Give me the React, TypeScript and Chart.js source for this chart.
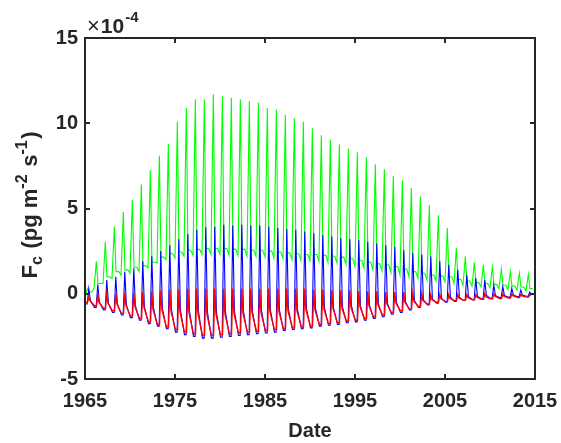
import React, { useEffect, useRef } from 'react';
import { Chart, registerables } from 'chart.js';

Chart.register(...registerables);

// ---------- data (values in units of 1e-4 pg m^-2 s^-1) ----------
const years = [
  1965, 1966, 1967, 1968, 1969, 1970, 1971, 1972, 1973, 1974,
  1975, 1976, 1977, 1978, 1979, 1980, 1981, 1982, 1983, 1984,
  1985, 1986, 1987, 1988, 1989, 1990, 1991, 1992, 1993, 1994,
  1995, 1996, 1997, 1998, 1999, 2000, 2001, 2002, 2003, 2004,
  2005, 2006, 2007, 2008, 2009, 2010, 2011, 2012, 2013, 2014,
];

const greenPeak = [
  0.3, 1.9, 3.05, 3.95, 4.8, 5.5, 6.4, 7.25, 8.1, 8.8,
  10.1, 10.9, 11.4, 11.4, 11.7, 11.6, 11.5, 11.4, 11.3, 11.2,
  10.9, 10.8, 10.5, 10.3, 10.1, 9.7, 9.3, 9.05, 8.75, 8.5,
  8.3, 8.0, 7.6, 7.3, 6.9, 6.65, 6.2, 5.7, 5.2, 4.6,
  3.85, 2.7, 2.2, 1.85, 1.7, 1.55, 1.45, 1.3, 1.2, 1.15,
];
const greenPlateau = [
  0.1, 0.6, 1.0, 1.3, 1.4, 1.55, 1.65, 1.85, 2.15, 2.35,
  2.45, 2.55, 2.6, 2.65, 2.65, 2.65, 2.6, 2.6, 2.55, 2.55,
  2.5, 2.45, 2.4, 2.35, 2.3, 2.3, 2.25, 2.2, 2.15, 2.05,
  1.95, 1.85, 1.75, 1.7, 1.6, 1.45, 1.3, 1.2, 1.1, 1.05,
  1.0, 0.85, 0.75, 0.65, 0.6, 0.55, 0.5, 0.45, 0.4, 0.3,
];
const greenLow = [
  -0.2, 0.3, 0.6, 0.9, 1.1, 1.2, 1.3, 1.5, 1.8, 2.0,
  2.1, 2.2, 2.25, 2.3, 2.3, 2.3, 2.25, 2.25, 2.2, 2.2,
  2.15, 2.1, 2.05, 2.0, 1.95, 1.95, 1.9, 1.85, 1.8, 1.7,
  1.6, 1.5, 1.4, 1.35, 1.25, 1.1, 1.0, 0.9, 0.8, 0.75,
  0.7, 0.6, 0.5, 0.45, 0.4, 0.35, 0.3, 0.25, 0.2, 0.15,
];

const bluePeak = [
  0.3, 0.55, 0.8, 1.0, 1.3, 1.5, 1.9, 2.2, 2.5, 2.85,
  3.2, 3.5, 3.75, 3.9, 3.95, 4.05, 4.0, 4.05, 4.0, 4.0,
  3.95, 3.85, 3.8, 3.75, 3.65, 3.55, 3.45, 3.35, 3.25, 3.2,
  3.15, 3.05, 2.95, 2.85, 2.75, 2.55, 2.4, 2.3, 2.2, 1.9,
  1.7, 1.4, 1.1, 0.9, 0.8, 0.5, 0.42, 0.32, 0.22, 0.1,
];
const blueMid = [
  -0.4, -0.5, -0.55, -0.6, -0.65, -0.7, -0.75, -0.8, -0.85, -0.9,
  -0.95, -1.0, -1.0, -1.05, -1.05, -1.05, -1.0, -1.0, -1.0, -0.95,
  -0.95, -0.95, -0.9, -0.9, -0.85, -0.85, -0.8, -0.8, -0.75, -0.7,
  -0.7, -0.65, -0.6, -0.55, -0.5, -0.45, -0.4, -0.35, -0.3, -0.25,
  -0.2, -0.2, -0.15, -0.15, -0.1, -0.1, -0.1, -0.08, -0.08, -0.05,
];
const blueLow = [
  -0.6, -0.8, -0.95, -1.1, -1.25, -1.4, -1.55, -1.75, -1.9, -2.05,
  -2.25, -2.4, -2.5, -2.6, -2.6, -2.55, -2.5, -2.45, -2.4, -2.35,
  -2.3, -2.25, -2.15, -2.1, -2.05, -2.0, -1.9, -1.85, -1.8, -1.7,
  -1.65, -1.55, -1.45, -1.35, -1.2, -1.1, -0.95, -0.8, -0.65, -0.55,
  -0.5, -0.45, -0.4, -0.35, -0.3, -0.27, -0.22, -0.2, -0.17, -0.15,
];

const redPeak = [
  -0.2, -0.05, 0.0, 0.0, 0.05, 0.05, 0.1, 0.15, 0.2, 0.25,
  0.25, 0.3, 0.3, 0.3, 0.3, 0.3, 0.3, 0.3, 0.3, 0.3,
  0.3, 0.3, 0.3, 0.3, 0.3, 0.25, 0.25, 0.2, 0.2, 0.2,
  0.15, 0.15, 0.15, 0.1, 0.1, 0.1, 0.05, 0.0, -0.05, -0.05,
  -0.05, -0.05, -0.05, -0.05, 0.0, 0.0, 0.0, 0.0, -0.05, -0.05,
];
const redMid = [
  -0.4, -0.5, -0.55, -0.6, -0.7, -0.75, -0.8, -0.9, -0.95, -1.0,
  -1.05, -1.1, -1.15, -1.2, -1.2, -1.2, -1.15, -1.15, -1.1, -1.1,
  -1.05, -1.05, -1.0, -1.0, -0.95, -0.95, -0.9, -0.85, -0.85, -0.8,
  -0.75, -0.7, -0.65, -0.6, -0.55, -0.5, -0.45, -0.4, -0.35, -0.3,
  -0.28, -0.25, -0.22, -0.2, -0.18, -0.15, -0.15, -0.12, -0.12, -0.1,
];
const redLow = [
  -0.5, -0.7, -0.85, -1.0, -1.15, -1.3, -1.45, -1.65, -1.8, -1.95,
  -2.1, -2.25, -2.35, -2.45, -2.45, -2.4, -2.35, -2.3, -2.25, -2.2,
  -2.15, -2.1, -2.05, -2.0, -1.95, -1.9, -1.8, -1.75, -1.7, -1.6,
  -1.55, -1.45, -1.35, -1.25, -1.1, -1.0, -0.9, -0.75, -0.6, -0.5,
  -0.45, -0.4, -0.38, -0.35, -0.32, -0.3, -0.28, -0.25, -0.22, -0.2,
];

const xTickValues = [1965, 1975, 1985, 1995, 2005, 2015];
const xTickLabels = ['1965', '1975', '1985', '1995', '2005', '2015'];
const yTickValues = [-5, 0, 5, 10, 15];
const yTickLabels = ['-5', '0', '5', '10', '15'];

// time of each key point within a year (fraction of the year)
const greenPhase = [0.0, 0.1, 0.26, 0.44, 0.75];
const bluePhase = [0.05, 0.24, 0.42, 0.6];
const redPhase = [0.05, 0.28, 0.42, 0.55];

const FONT = "'Liberation Sans', Arial, Helvetica, sans-serif";
const INK = '#262626';

function buildSeries(phases: number[], cols: number[][]) {
  const pts: { x: number; y: number }[] = [];
  years.forEach((yr, i) => {
    phases.forEach((p, k) => pts.push({ x: yr + p, y: cols[k][i] }));
  });
  return pts;
}

const framePlugin = {
  id: 'matlabFrame',
  afterDatasetsDraw(chart: any) {
    const { ctx, chartArea: a, scales } = chart;
    const xs = scales.x;
    const ys = scales.y;
    ctx.save();
    ctx.strokeStyle = INK;
    ctx.lineWidth = 2;
    ctx.strokeRect(a.left, a.top, a.right - a.left, a.bottom - a.top);
    ctx.beginPath();
    xTickValues.forEach((v) => {
      const px = Math.round(xs.getPixelForValue(v));
      ctx.moveTo(px, a.bottom);
      ctx.lineTo(px, a.bottom - 5);
      ctx.moveTo(px, a.top);
      ctx.lineTo(px, a.top + 5);
    });
    yTickValues.forEach((v) => {
      const py = Math.round(ys.getPixelForValue(v));
      ctx.moveTo(a.left, py);
      ctx.lineTo(a.left + 5, py);
      ctx.moveTo(a.right, py);
      ctx.lineTo(a.right - 5, py);
    });
    ctx.stroke();
    ctx.restore();
  },
  afterDraw(chart: any) {
    const { ctx, chartArea: a } = chart;
    ctx.save();
    ctx.fillStyle = INK;
    ctx.textBaseline = 'alphabetic';
    ctx.textAlign = 'left';

    // exponent label ×10^-4
    ctx.font = `22px ${FONT}`;
    ctx.fillText('\u00d7', a.left + 2, a.top - 5);
    const wx = ctx.measureText('\u00d7').width;
    ctx.font = `bold 21px ${FONT}`;
    ctx.fillText('10', a.left + 2 + wx + 1, a.top - 5);
    const w10 = ctx.measureText('10').width;
    ctx.font = `bold 15px ${FONT}`;
    ctx.fillText('-4', a.left + 2 + wx + 1 + w10 + 1, a.top - 16);

    // x title
    ctx.font = `bold 20px ${FONT}`;
    ctx.textAlign = 'center';
    ctx.fillText('Date', (a.left + a.right) / 2, 437);

    // y title with sub/superscripts
    const segs = [
      { t: 'F', s: 22, dy: 0 },
      { t: 'c', s: 16, dy: 5 },
      { t: ' (pg m', s: 22, dy: 0 },
      { t: '-2', s: 16, dy: -10 },
      { t: ' s', s: 22, dy: 0 },
      { t: '-1', s: 16, dy: -10 },
      { t: ')', s: 22, dy: 0 },
    ];
    ctx.textAlign = 'left';
    let total = 0;
    const widths = segs.map((sg) => {
      ctx.font = `bold ${sg.s}px ${FONT}`;
      const w = ctx.measureText(sg.t).width + (sg.s < 20 ? 1.5 : 0);
      total += w;
      return w;
    });
    ctx.translate(37, 205);
    ctx.rotate(-Math.PI / 2);
    let x = -total / 2;
    segs.forEach((sg, i) => {
      ctx.font = `bold ${sg.s}px ${FONT}`;
      ctx.fillText(sg.t, x, sg.dy);
      x += widths[i];
    });
    ctx.restore();
  },
};

export default function App() {
  const ref = useRef<HTMLCanvasElement | null>(null);

  useEffect(() => {
    if (!ref.current) return;
    const green = buildSeries(greenPhase, [greenLow, greenLow, greenPeak, greenPlateau, greenPlateau]);
    const blue = buildSeries(bluePhase, [blueLow, blueLow, bluePeak, blueMid]);
    const red = buildSeries(redPhase, [redLow, redLow, redPeak, redMid]);

    const lineDs = (data: any, color: string, w: number) => ({
      data,
      borderColor: color,
      backgroundColor: color,
      borderWidth: w,
      pointRadius: 0,
      tension: 0,
      fill: false,
    });

    const chart = new Chart(ref.current, {
      type: 'line',
      data: {
        datasets: [
          lineDs(red, '#ff0000', 1.4),
          lineDs(blue, '#0000ff', 1.1),
          lineDs(green, '#00ff00', 1.1),
        ],
      },
      options: {
        responsive: false,
        animation: false,
        devicePixelRatio: 1,
        layout: { padding: { top: 38, right: 26, left: 0, bottom: 0 } },
        plugins: { legend: { display: false }, tooltip: { enabled: false } },
        scales: {
          x: {
            type: 'linear',
            min: 1965,
            max: 2015,
            grid: { display: false, drawTicks: false },
            border: { display: false },
            afterBuildTicks: (s: any) => {
              s.ticks = xTickValues.map((v) => ({ value: v }));
            },
            afterFit: (s: any) => {
              s.height = 64;
              s.paddingLeft = 0;
              s.paddingRight = 0;
            },
            ticks: {
              autoSkip: false,
              maxRotation: 0,
              padding: 10,
              color: INK,
              font: { family: FONT, size: 20, weight: 'bold' },
              callback: (_v: any, i: number) => xTickLabels[i],
            },
          },
          y: {
            type: 'linear',
            min: -5,
            max: 15,
            grid: { display: false, drawTicks: false },
            border: { display: false },
            afterBuildTicks: (s: any) => {
              s.ticks = yTickValues.map((v) => ({ value: v }));
            },
            afterFit: (s: any) => {
              s.width = 85;
              s.paddingTop = 0;
              s.paddingBottom = 0;
            },
            ticks: {
              autoSkip: false,
              padding: 7,
              color: INK,
              font: { family: FONT, size: 20, weight: 'bold' },
              callback: (_v: any, i: number) => yTickLabels[i],
            },
          },
        },
      },
      plugins: [framePlugin],
    });
    return () => chart.destroy();
  }, []);

  return (
    <div style={{ position: 'absolute', left: 0, top: 0, width: 561, height: 443, background: '#fff' }}>
      <canvas ref={ref} width={561} height={443} style={{ width: 561, height: 443 }} />
    </div>
  );
}
